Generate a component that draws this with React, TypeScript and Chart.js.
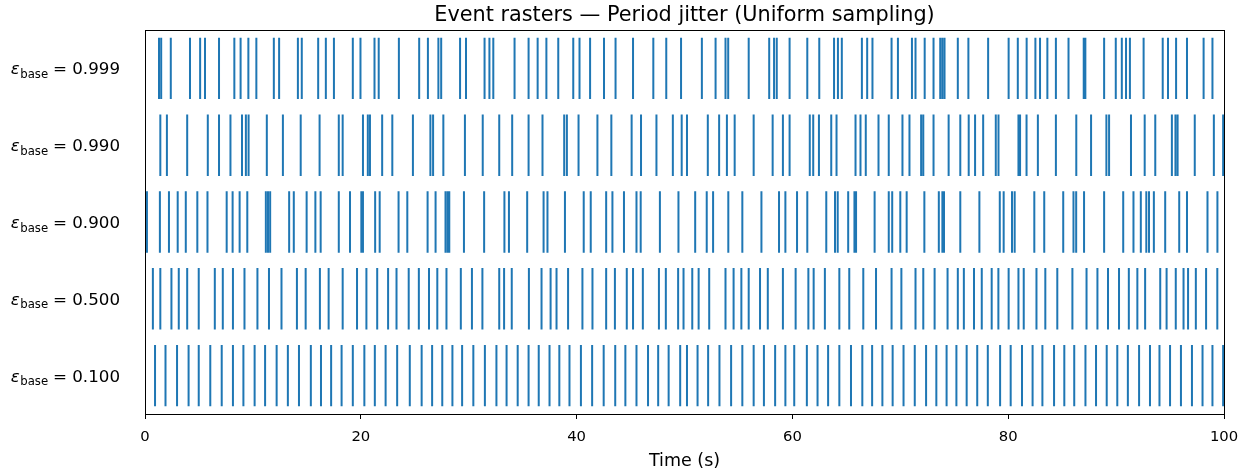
import React, { useEffect, useRef } from "react";
import { Chart, registerables } from "chart.js";

Chart.register(...registerables);

const TITLE = "Event rasters — Period jitter (Uniform sampling)";
const X_TITLE = "Time (s)";
const X_TICKS = [0, 20, 40, 60, 80, 100];
const EPS_LABELS = ["0.100", "0.500", "0.900", "0.990", "0.999"];
const LINE_LENGTH = 0.8;
const COLOR = "#1f77b4";

const events100 = [0.93, 1.9, 2.97, 4.04, 4.98, 6.05, 7.11, 8.15, 9.12, 10.16, 11.13, 12.2, 13.24, 14.27, 15.37, 16.31, 17.25, 18.22, 19.26, 20.33, 21.3, 22.3, 23.37, 24.54, 25.64, 26.61, 27.55, 28.49, 29.39, 30.43, 31.5, 32.57, 33.51, 34.54, 35.55, 36.49, 37.49, 38.4, 39.34, 40.4, 41.44, 42.51, 43.58, 44.52, 45.55, 46.62, 47.56, 48.53, 49.6, 50.23, 51.21, 52.19, 53.24, 54.32, 55.36, 56.41, 57.36, 58.4, 59.35, 60.17, 61.34, 62.33, 63.31, 64.35, 65.43, 66.48, 67.39, 68.34, 69.29, 70.3, 71.34, 72.39, 73.34, 74.29, 75.2, 76.15, 77.13, 78.11, 79.25, 80.23, 81.28, 82.26, 83.17, 84.25, 85.2, 86.12, 87.16, 88.14, 89.13, 90.11, 91.09, 92.13, 93.14, 94.02, 95.0, 96.01, 97.03, 98.01, 98.93, 99.92];

const events500 = [0.73, 1.42, 2.45, 3.13, 3.91, 4.98, 6.47, 7.21, 8.15, 9.22, 10.42, 11.49, 12.65, 14.08, 14.89, 16.21, 17.02, 18.32, 19.65, 20.52, 21.52, 22.53, 23.31, 24.44, 25.38, 26.32, 27.09, 27.94, 29.27, 30.3, 31.27, 32.83, 33.28, 33.99, 35.58, 36.75, 37.59, 38.14, 39.21, 40.54, 41.47, 42.74, 43.55, 44.65, 45.23, 46.14, 47.63, 48.27, 49.41, 49.91, 50.72, 51.31, 52.29, 53.8, 54.55, 55.27, 55.95, 57.0, 57.72, 59.12, 60.3, 61.48, 61.97, 63.01, 64.35, 65.27, 66.57, 67.75, 69.19, 70.1, 71.41, 72.13, 73.18, 74.38, 75.33, 75.89, 76.83, 77.55, 78.47, 79.09, 80.04, 80.95, 81.44, 82.62, 83.44, 84.55, 85.95, 87.26, 88.27, 89.25, 90.27, 91.18, 91.97, 92.69, 94.09, 94.68, 95.53, 96.25, 96.67, 97.39, 98.34, 99.38];

const events900 = [0.18, 1.38, 2.22, 3.03, 3.78, 4.85, 5.79, 7.57, 8.12, 8.77, 9.48, 11.2, 11.4, 11.6, 13.36, 13.79, 14.98, 15.79, 16.28, 17.96, 19.0, 20.05, 20.2, 21.33, 21.75, 23.5, 24.31, 26.19, 26.93, 27.85, 28.05, 28.2, 29.56, 31.43, 33.31, 33.73, 35.42, 36.94, 37.3, 38.92, 40.66, 41.31, 42.74, 43.32, 44.39, 45.55, 45.94, 47.72, 49.44, 50.99, 52.06, 52.65, 54.06, 55.36, 57.13, 58.76, 59.35, 60.43, 61.38, 63.14, 63.95, 64.2, 65.17, 65.75, 65.9, 67.62, 68.93, 69.25, 70.0, 70.59, 72.23, 73.57, 73.9, 74.05, 75.56, 77.33, 79.22, 79.58, 80.35, 80.6, 82.42, 83.34, 85.1, 86.05, 86.3, 87.03, 88.89, 90.66, 91.61, 92.29, 92.8, 93.05, 93.5, 94.55, 95.85, 96.57, 98.47, 99.39];

const events990 = [1.42, 2.03, 3.91, 5.82, 6.86, 7.92, 8.99, 9.35, 9.6, 11.29, 12.78, 14.43, 16.18, 17.96, 18.32, 20.2, 20.65, 20.85, 21.98, 22.92, 24.83, 26.45, 26.7, 27.65, 29.65, 31.3, 32.83, 34.03, 35.55, 36.84, 38.85, 39.1, 40.18, 41.93, 43.22, 45.1, 45.97, 47.4, 48.92, 49.74, 50.23, 52.16, 53.21, 53.93, 54.65, 56.41, 58.17, 59.12, 59.74, 61.61, 61.93, 62.46, 63.6, 64.09, 65.85, 66.31, 66.8, 67.98, 68.93, 70.2, 70.85, 71.93, 72.13, 73.08, 74.48, 75.56, 76.34, 76.93, 77.68, 78.85, 79.1, 80.95, 81.1, 81.7, 82.75, 84.42, 86.31, 87.68, 89.1, 89.35, 91.38, 92.65, 93.63, 95.17, 95.5, 95.7, 97.29, 99.06, 99.92];

const events999 = [1.3, 1.5, 2.39, 4.17, 5.11, 5.56, 6.86, 8.28, 8.86, 9.58, 10.32, 11.94, 12.43, 14.17, 14.53, 16.05, 16.76, 17.51, 19.26, 19.97, 21.27, 21.66, 23.53, 25.41, 26.22, 27.19, 27.45, 29.2, 29.75, 31.47, 31.92, 32.28, 34.25, 35.55, 36.39, 37.2, 38.3, 39.69, 40.27, 41.25, 42.54, 43.61, 45.23, 47.11, 48.31, 49.68, 51.61, 52.88, 53.8, 54.05, 55.95, 57.85, 58.3, 58.55, 59.74, 61.38, 62.49, 63.86, 64.22, 64.58, 66.44, 66.93, 67.42, 69.19, 69.78, 71.08, 71.41, 72.26, 73.08, 73.7, 73.9, 74.1, 75.33, 76.31, 78.14, 80.04, 80.89, 81.71, 82.52, 82.95, 83.63, 84.42, 85.59, 87.0, 87.15, 88.89, 89.97, 90.53, 90.92, 91.28, 92.55, 94.32, 94.81, 95.56, 96.57, 98.11, 98.93];

const SERIES = [events100, events500, events900, events990, events999];

const FONT = "'DejaVu Sans', sans-serif";

export default function App() {
  const ref = useRef<HTMLCanvasElement>(null);

  useEffect(() => {
    document.body.style.margin = "0";
    const datasets = SERIES.map((ev, i) => {
      const data: any[] = [];
      ev.forEach((t) => {
        data.push({ x: t, y: i - LINE_LENGTH / 2 }, { x: t, y: i + LINE_LENGTH / 2 }, { x: t, y: null });
      });
      return {
        label: EPS_LABELS[i],
        data,
        borderColor: COLOR,
        backgroundColor: COLOR,
        borderWidth: 2,
        borderCapStyle: "butt" as const,
        pointRadius: 0,
        spanGaps: false,
        tension: 0,
        fill: false,
      };
    });

    const decor = {
      id: "decor",
      afterDraw(chart: any) {
        const { ctx, chartArea } = chart;
        const { left, right, top, bottom } = chartArea;
        ctx.save();
        // frame
        ctx.strokeStyle = "#000";
        ctx.lineWidth = 1;
        ctx.strokeRect(Math.round(left) + 0.5, Math.round(top) + 0.5, Math.round(right - left), Math.round(bottom - top));
        // title
        ctx.fillStyle = "#000";
        ctx.font = `20.8px ${FONT}`;
        ctx.textAlign = "center";
        ctx.textBaseline = "alphabetic";
        ctx.fillText(TITLE, (left + right) / 2, 21);
        // y labels
        const yScale = chart.scales.y;
        const rightEdge = 120;
        EPS_LABELS.forEach((lab, i) => {
          const y = yScale.getPixelForValue(i) + 6;
          ctx.textBaseline = "alphabetic";
          ctx.textAlign = "left";
          const tail = " = " + lab;
          ctx.font = `16.7px ${FONT}`;
          const wTail = ctx.measureText(tail).width;
          ctx.font = `11.7px ${FONT}`;
          const wSub = ctx.measureText("base").width;
          ctx.font = `italic 16.7px ${FONT}`;
          const wEps = ctx.measureText("ε").width;
          let x = rightEdge - wTail - wSub - wEps;
          ctx.fillText("ε", x, y);
          x += wEps + 0.5;
          ctx.font = `11.7px ${FONT}`;
          ctx.fillText("base", x, y + 3.5);
          x += wSub - 0.5;
          ctx.font = `16.7px ${FONT}`;
          ctx.fillText(tail, x, y);
        });
        ctx.restore();
      },
    };

    const chart = new Chart(ref.current as HTMLCanvasElement, {
      type: "line",
      data: { datasets },
      options: {
        animation: false,
        responsive: false,
        devicePixelRatio: 1,
        layout: { padding: { top: 30, right: 26, left: 0, bottom: 0 } },
        plugins: {
          legend: { display: false },
          tooltip: { enabled: false },
          title: { display: false },
        },
        scales: {
          x: {
            type: "linear",
            min: 0,
            max: 100,
            afterBuildTicks: (s: any) => {
              s.ticks = X_TICKS.map((v) => ({ value: v }));
            },
            ticks: { color: "#000", font: { family: FONT, size: 14.8 }, padding: 9, maxRotation: 0 },
            grid: { drawOnChartArea: false, drawTicks: true, tickLength: 5, color: "#000", tickWidth: 1 },
            border: { display: true, color: "#000", width: 1 },
            title: { display: true, text: X_TITLE, color: "#000", font: { family: FONT, size: 17.5 }, padding: { top: 0, bottom: 1 } },
            afterFit: (s: any) => {
              s.height = 59;
            },
          },
          y: {
            type: "linear",
            min: -0.5,
            max: 4.5,
            ticks: { display: false },
            grid: { display: false },
            border: { display: true, color: "#000", width: 1 },
            afterFit: (s: any) => {
              s.width = 145;
            },
          },
        },
      } as any,
      plugins: [decor],
    });
    return () => chart.destroy();
  }, []);

  return <canvas ref={ref} width={1250} height={473} style={{ display: "block", width: 1250, height: 473 }} />;
}
